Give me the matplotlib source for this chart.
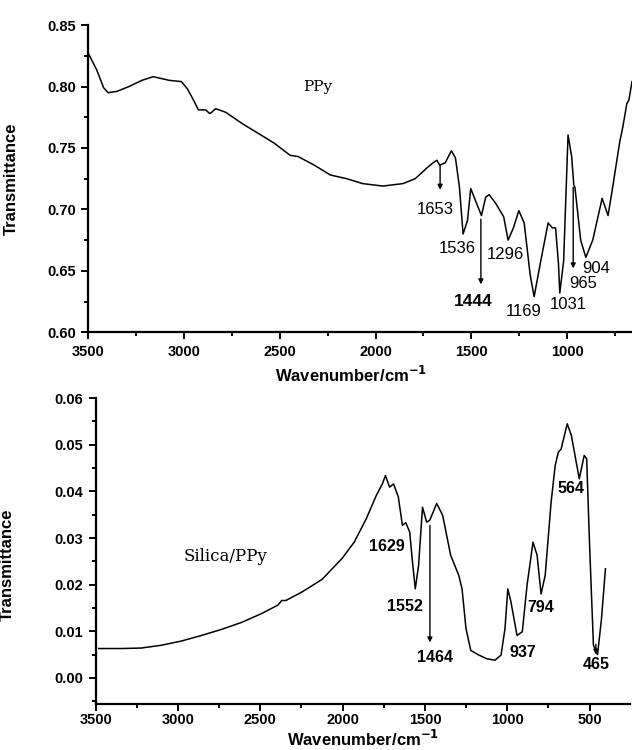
import numpy as np
import matplotlib.pyplot as plt
from matplotlib.ticker import MultipleLocator, FormatStrFormatter

# PPy spectrum (wavenumber, transmittance)
ppy_wn = [3500, 3456, 3420, 3397, 3351, 3287, 3220, 3161, 3077, 3014, 2982, 2951, 2925,
          2888, 2866, 2856, 2835, 2782, 2698, 2593, 2530, 2446, 2404, 2320, 2236, 2151,
          2067, 1962, 1857, 1793, 1730, 1699, 1680, 1665, 1650, 1636, 1604, 1583, 1562,
          1543, 1520, 1503, 1478, 1447, 1425, 1407, 1373, 1331, 1308, 1280, 1252, 1224,
          1193, 1172, 1140, 1099, 1077, 1060, 1045, 1038, 1018, 995, 976, 965, 959, 929,
          902, 866, 817, 786, 762, 725, 709, 688, 677, 661]
ppy_t = [0.827, 0.8135, 0.799, 0.795, 0.796, 0.800, 0.805, 0.808, 0.805, 0.804, 0.798,
         0.789, 0.781, 0.781, 0.778, 0.779, 0.782, 0.779, 0.770, 0.760, 0.754, 0.744,
         0.743, 0.736, 0.728, 0.725, 0.721, 0.719, 0.721, 0.725, 0.734, 0.738, 0.740,
         0.736, 0.737, 0.738, 0.7477, 0.742, 0.718, 0.680, 0.691, 0.717, 0.707, 0.695,
         0.710, 0.712, 0.705, 0.694, 0.675, 0.685, 0.699, 0.689, 0.647, 0.629, 0.656,
         0.689, 0.685, 0.685, 0.656, 0.632, 0.658, 0.7605, 0.743, 0.720, 0.718, 0.675,
         0.661, 0.675, 0.709, 0.695, 0.718, 0.755, 0.767, 0.786, 0.789, 0.804]

# Silica/PPy spectrum
sp_wn = [3481, 3346, 3224, 3102, 2980, 2858, 2736, 2614, 2492, 2394, 2370, 2345, 2248,
         2126, 2004, 1930, 1857, 1796, 1759, 1740, 1715, 1691, 1662, 1637, 1617, 1593,
         1576, 1559, 1539, 1515, 1490, 1471, 1429, 1393, 1344, 1295, 1275, 1251, 1222,
         1173, 1124, 1075, 1038, 1014, 997, 978, 941, 909, 880, 844, 819, 795, 770, 734,
         709, 690, 673, 636, 611, 563, 533, 518, 501, 477, 452, 428, 404]
sp_t = [0.0063, 0.0063, 0.0064, 0.0070, 0.0079, 0.0091, 0.0104, 0.0119, 0.0138, 0.0156,
        0.0166, 0.0166, 0.0184, 0.0211, 0.0256, 0.0291, 0.0341, 0.0391, 0.0416, 0.0434,
        0.0409, 0.0416, 0.0388, 0.0327, 0.0333, 0.0313, 0.0249, 0.0191, 0.0241, 0.0366,
        0.0334, 0.0338, 0.0374, 0.0349, 0.0263, 0.0220, 0.0191, 0.0106, 0.0059, 0.0049,
        0.0041, 0.0038, 0.0049, 0.0106, 0.0191, 0.0163, 0.0091, 0.0099, 0.0199, 0.0291,
        0.0263, 0.0180, 0.0220, 0.0377, 0.0456, 0.0484, 0.0491, 0.0545, 0.0520, 0.0427,
        0.0477, 0.0470, 0.0291, 0.0070, 0.0050, 0.0127, 0.0234]

# peak labels: (text, x, y)
ppy_labels = [("1653", 1688, 0.700), ("1536", 1572, 0.668), ("1296", 1320, 0.663),
              ("1169", 1226, 0.617), ("1031", 994, 0.623), ("965", 915, 0.640),
              ("904", 846, 0.652)]
ppy_arrows = [(1663, 0.736, 0.716), (1450, 0.692, 0.639), (968, 0.718, 0.652)]
sp_labels = [("1629", 1734, 0.0281), ("1552", 1624, 0.0154), ("1464", 1441, 0.0043),
             ("794", 794, 0.0151), ("937", 903, 0.0054), ("564", 615, 0.0407),
             ("465", 459, 0.0029)]
sp_arrows = [(1470, 0.0327, 0.0076), (462, 0.0072, 0.0050)]

tick_font = {'family': 'Liberation Sans', 'weight': 'bold', 'size': 10.5}


def style_axes(ax):
    for s in ['top', 'right']:
        ax.spines[s].set_visible(False)
    for s in ['left', 'bottom']:
        ax.spines[s].set_linewidth(1.6)
    ax.tick_params(which='both', direction='out', width=1.4)
    ax.tick_params(which='major', length=5)
    ax.tick_params(which='minor', length=3)
    for lab in ax.get_xticklabels() + ax.get_yticklabels():
        lab.set_fontproperties(tick_font)


def arrow(ax, x, y0, y1):
    ax.annotate('', xy=(x, y1), xytext=(x, y0),
                arrowprops=dict(arrowstyle='-|>', color='black', lw=1.0,
                                mutation_scale=7, shrinkA=0, shrinkB=0))


fig = plt.figure(figsize=(6.32, 7.5), dpi=100)

# top panel
ax1 = fig.add_axes([0.1397, 0.5569, 0.8603, 0.4097])
ax1.plot(ppy_wn, ppy_t, color='black', lw=1.1)
ax1.set_xlim(3500, 661)
ax1.set_ylim(0.60, 0.85)
ax1.xaxis.set_major_locator(MultipleLocator(500))
ax1.xaxis.set_minor_locator(MultipleLocator(250))
ax1.yaxis.set_major_locator(MultipleLocator(0.05))
ax1.yaxis.set_minor_locator(MultipleLocator(0.025))
ax1.yaxis.set_major_formatter(FormatStrFormatter('%.2f'))
ax1.tick_params(axis='x', pad=4)
ax1.tick_params(axis='y', pad=4)
style_axes(ax1)
ax1.set_xlabel('Wavenumber/cm$^{\\mathbf{-1}}$', fontsize=12, fontweight='bold',
               family='Liberation Sans')
ax1.xaxis.set_label_coords(0.483, -0.107)
ax1.set_ylabel('Transmittance', fontsize=12, fontweight='bold', family='Liberation Sans')
ax1.yaxis.set_label_coords(-0.1275, 0.5)
ax1.text(2300, 0.800, 'PPy', family='DejaVu Serif', fontsize=11, ha='center', va='center')
for t, x, y in ppy_labels:
    ax1.text(x, y, t, fontsize=12, ha='center', va='center', family='Liberation Sans')
ax1.text(1488, 0.625, '1444', fontsize=12.5, fontweight='bold', ha='center', va='center',
         family='Liberation Sans')
for x, y0, y1 in ppy_arrows:
    arrow(ax1, x, y0, y1)

# bottom panel
ax2 = fig.add_axes([0.1514, 0.0613, 0.8454, 0.4079])
ax2.plot(sp_wn, sp_t, color='black', lw=1.1)
ax2.set_xlim(3500, 255)
ax2.set_ylim(-0.0056, 0.06)
ax2.xaxis.set_major_locator(MultipleLocator(500))
ax2.xaxis.set_minor_locator(MultipleLocator(250))
ax2.yaxis.set_major_locator(MultipleLocator(0.01))
ax2.yaxis.set_minor_locator(MultipleLocator(0.005))
ax2.yaxis.set_major_formatter(FormatStrFormatter('%.2f'))
ax2.tick_params(axis='x', pad=1.5)
ax2.tick_params(axis='y', pad=4)
style_axes(ax2)
ax2.set_xlabel('Wavenumber/cm$^{\\mathbf{-1}}$', fontsize=12, fontweight='bold',
               family='Liberation Sans')
ax2.xaxis.set_label_coords(0.5, -0.082)
ax2.set_ylabel('Transmittance', fontsize=12, fontweight='bold', family='Liberation Sans')
ax2.yaxis.set_label_coords(-0.151, 0.454)
ax2.text(2711, 0.0261, 'Silica/PPy', family='DejaVu Serif', fontsize=12,
         ha='center', va='center')
for t, x, y in sp_labels:
    ax2.text(x, y, t, fontsize=11.5, fontweight='bold', ha='center', va='center',
             family='Liberation Sans')
for x, y0, y1 in sp_arrows:
    arrow(ax2, x, y0, y1)

fig.savefig('out.png', dpi=100)
